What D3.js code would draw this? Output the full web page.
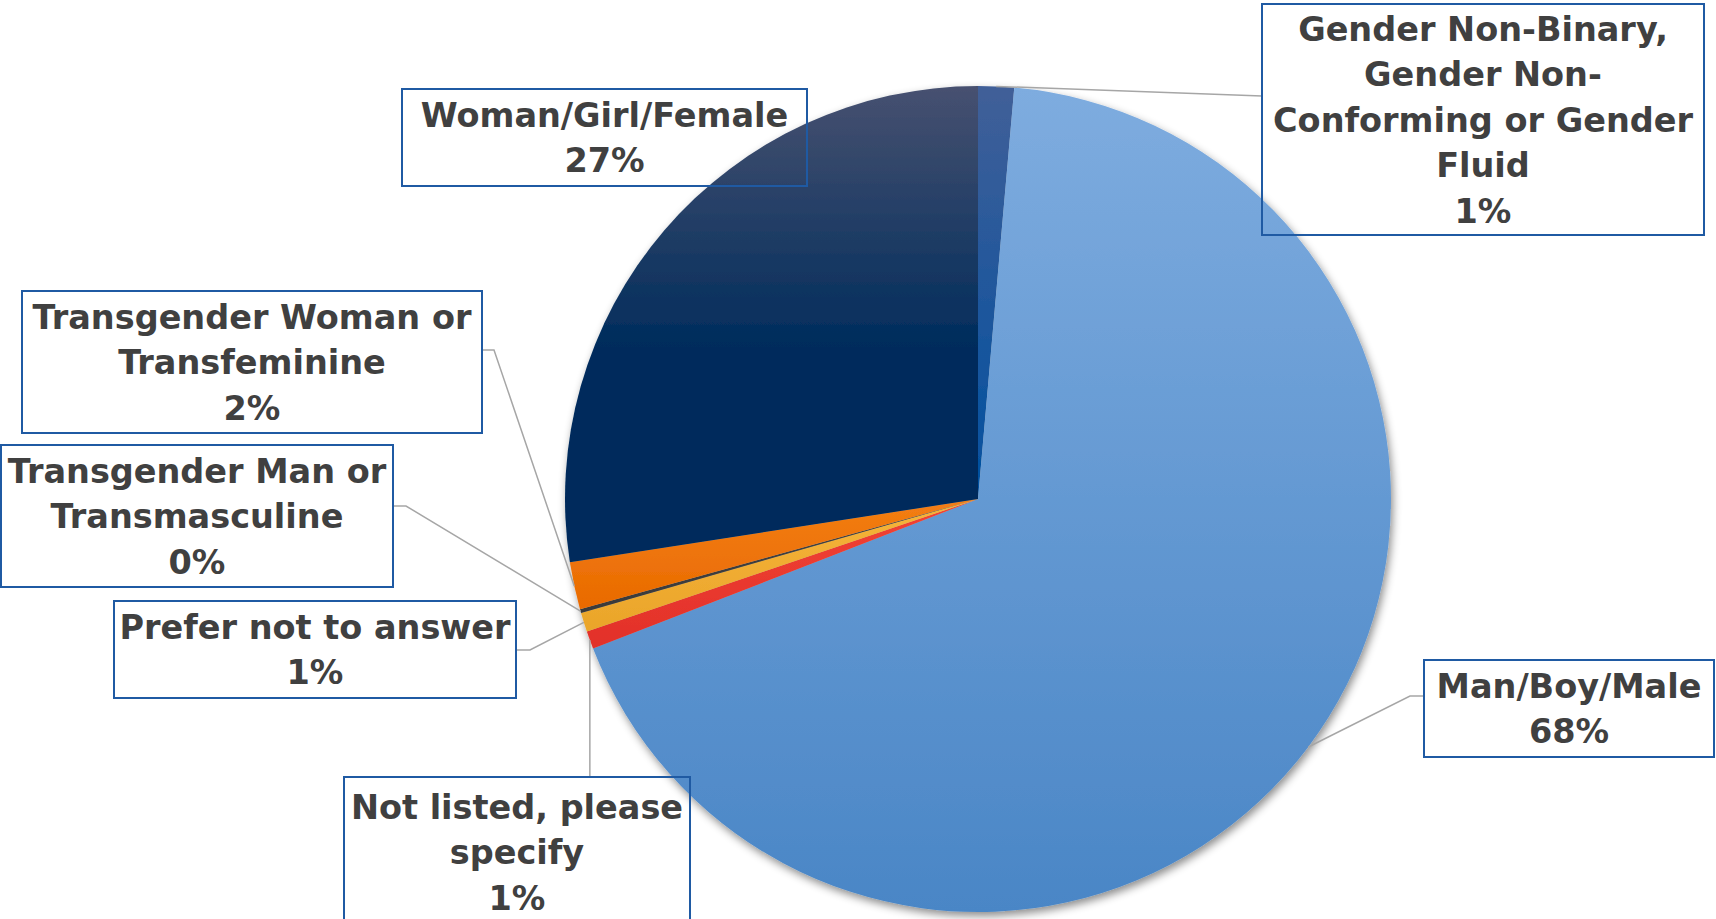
<!DOCTYPE html>
<html>
<head>
<meta charset="utf-8">
<script src="https://cdn.jsdelivr.net/npm/d3@7"></script>
<style>
  html, body { margin: 0; padding: 0; background: #fff; }
  svg { display: block; }
  .lbl text { font-family: "DejaVu Sans", sans-serif; font-weight: bold; fill: #404040; }
</style>
</head>
<body>
<svg id="chart" width="1716" height="919"></svg>
<script>
// data, clockwise from 12 o'clock
const categories = [
  "Gender Non-Binary, Gender Non-Conforming or Gender Fluid",
  "Man/Boy/Male",
  "Not listed, please specify",
  "Prefer not to answer",
  "Transgender Man or Transmasculine",
  "Transgender Woman or Transfeminine",
  "Woman/Girl/Female"
];
const values = [1.4, 67.7, 0.7, 0.75, 0.15, 1.85, 27.45];
const labelLines = [
  ["Gender Non-Binary,", "Gender Non-", "Conforming or Gender", "Fluid"],
  ["Man/Boy/Male"],
  ["Not listed, please", "specify"],
  ["Prefer not to answer"],
  ["Transgender Man or", "Transmasculine"],
  ["Transgender Woman or", "Transfeminine"],
  ["Woman/Girl/Female"]
];

// slice fills: [top colour, bottom colour]
const fills = [
  ["#415f98", "#0050a0"],
  ["#7eacdf", "#4a86c6"],
  ["#f24434", "#e2302a"],
  ["#f6b43a", "#eaa52a"],
  ["#444444", "#3a3a3a"],
  ["#f37e14", "#e96a00"],
  ["#475170", "#002c5c"]
];

// label boxes (x, y, w, h) and where the leader line leaves the box
const boxes = [
  { x: 1262, y: 4, w: 442, h: 231, side: "left", ay: 96, elbow: 0 },
  { x: 1424, y: 660, w: 290, h: 97, side: "left", ay: 696, elbow: 14 },
  { x: 344, y: 777, w: 346, h: 150, side: "top" },
  { x: 114, y: 601, w: 402, h: 97, side: "right", ay: 650, elbow: 14 },
  { x: 1, y: 445, w: 392, h: 142, side: "right", ay: 506, elbow: 13 },
  { x: 22, y: 291, w: 460, h: 142, side: "right", ay: 350, elbow: 12 },
  { x: 402, y: 89, w: 405, h: 97, side: null }
];

const cx = 978, cy = 499, radius = 413;
const lineH = 45.5;

const svg = d3.select("#chart");
const defs = svg.append("defs");

// soft drop shadow under the pie
const shadow = defs.append("filter")
  .attr("id", "shadow")
  .attr("x", "-10%").attr("y", "-10%")
  .attr("width", "120%").attr("height", "120%");
shadow.append("feDropShadow")
  .attr("dx", 2).attr("dy", 4)
  .attr("stdDeviation", 4)
  .attr("flood-color", "#000")
  .attr("flood-opacity", 0.45);

fills.forEach((f, i) => {
  const g = defs.append("linearGradient")
    .attr("id", "grad" + i)
    .attr("x1", 0).attr("y1", 0).attr("x2", 0).attr("y2", 1);
  g.append("stop").attr("offset", "0%").attr("stop-color", f[0]);
  g.append("stop").attr("offset", i === 6 ? "55%" : "100%").attr("stop-color", f[1]);
  if (i === 6) g.append("stop").attr("offset", "100%").attr("stop-color", f[1]);
});

const pie = d3.pie().sort(null).value((d) => d);
const arcs = pie(values);

const arc = d3.arc().innerRadius(0).outerRadius(radius);
const edge = d3.arc().innerRadius(radius).outerRadius(radius);

//slices
const pieG = svg.append("g")
  .attr("transform", `translate(${cx},${cy})`)
  .attr("filter", "url(#shadow)");

pieG.selectAll("path")
  .data(arcs)
  .join("path")
  .attr("d", arc)
  .attr("fill", (d, i) => `url(#grad${i})`);

//leader lines
const leaders = svg.append("g")
  .attr("fill", "none")
  .attr("stroke", "#a6a6a6")
  .attr("stroke-width", 1.5);

arcs.forEach((a, i) => {
  const b = boxes[i];
  if (!b.side) return;
  const c = edge.centroid(a);
  const px = cx + c[0], py = cy + c[1];
  let pts;
  if (b.side === "top") {
    pts = [[px, b.y], [px, py]];
  } else {
    const bx = b.side === "right" ? b.x + b.w : b.x;
    const ex = b.side === "right" ? bx + b.elbow : bx - b.elbow;
    pts = [[bx, b.ay], [ex, b.ay], [px, py]];
  }
  leaders.append("path").attr("d", d3.line()(pts));
});

//label boxes
const lbl = svg.selectAll(".lbl")
  .data(arcs)
  .join("g")
  .attr("class", "lbl");

lbl.append("rect")
  .attr("x", (d, i) => boxes[i].x)
  .attr("y", (d, i) => boxes[i].y)
  .attr("width", (d, i) => boxes[i].w)
  .attr("height", (d, i) => boxes[i].h)
  .attr("fill", "none")
  .attr("stroke", "#1f5aa3")
  .attr("stroke-width", 2);

lbl.append("text")
  .attr("text-anchor", "middle")
  .attr("font-size", 33.5)
  .each(function (d, i) {
    const b = boxes[i];
    const lines = labelLines[i].concat([Math.round(values[i]) + "%"]);
    const top = b.y + b.h / 2 - (lines.length - 1) * lineH / 2;
    d3.select(this).selectAll("tspan")
      .data(lines)
      .join("tspan")
      .attr("x", b.x + b.w / 2)
      .attr("y", (t, k) => top + k * lineH)
      .attr("dy", "0.36em")
      .text((t) => t);
  });
</script>
</body>
</html>
